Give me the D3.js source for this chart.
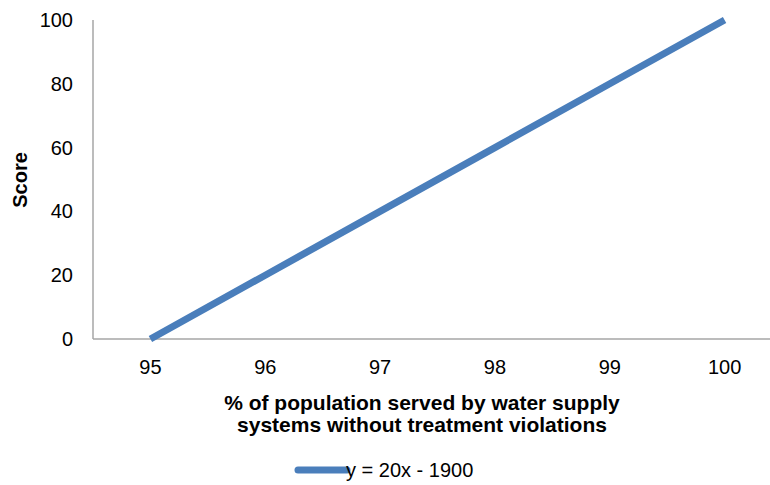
<meta charset="utf-8">
<title>Score chart</title>
<style>
  body { margin: 0; background: #fff; }
  text { font-family: "Liberation Sans", Arial, sans-serif; }
</style>
<svg width="770" height="485"></svg>
<script src="https://d3js.org/d3.v7.min.js"></script>
<script>
// data
var xValues = [95, 96, 97, 98, 99, 100];
var scores = [0, 20, 40, 60, 80, 100];
var xTicks = [95, 96, 97, 98, 99, 100];
var yTicks = [0, 20, 40, 60, 80, 100];
var legendLabel = "y = 20x - 1900";

var svg = d3.select("svg");

var x = d3.scaleLinear().domain([94.5, 100.5]).range([93, 782]);
var y = d3.scaleLinear().domain([0, 100]).range([339, 20]);

// axes lines
svg.append("line")
    .attr("x1", x(94.5)).attr("x2", x(100.5))
    .attr("y1", y(0)).attr("y2", y(0))
    .attr("stroke", "#a6a6a6").attr("stroke-width", 1.5);
svg.append("line")
    .attr("x1", x(94.5)).attr("x2", x(94.5))
    .attr("y1", y(0)).attr("y2", y(100))
    .attr("stroke", "#a6a6a6").attr("stroke-width", 1.5);

// tick labels
svg.append("g").selectAll("text")
    .data(yTicks).enter().append("text")
    .attr("x", 73)
    .attr("y", function(d) { return y(d); })
    .attr("dy", "0.35em")
    .attr("text-anchor", "end")
    .attr("font-size", 20)
    .text(function(d) { return d; });

svg.append("g").selectAll("text")
    .data(xTicks).enter().append("text")
    .attr("x", function(d) { return x(d); })
    .attr("y", 374)
    .attr("text-anchor", "middle")
    .attr("font-size", 20)
    .text(function(d) { return d; });

// the line
var line = d3.line()
    .x(function(d, i) { return x(xValues[i]); })
    .y(function(d) { return y(d); });

svg.append("path")
    .datum(scores)
    .attr("d", line)
    .attr("fill", "none")
    .attr("stroke", "#4a7ebb")
    .attr("stroke-width", 7);

// axis titles
var xt = svg.append("text")
    .attr("text-anchor", "middle")
    .attr("font-size", 21)
    .attr("font-weight", "bold");
xt.append("tspan").attr("x", 422).attr("y", 410).text("% of population served by water supply");
xt.append("tspan").attr("x", 422).attr("y", 432).text("systems without treatment  violations");

svg.append("text")
    .attr("transform", "translate(27,180) rotate(-90)")
    .attr("text-anchor", "middle")
    .attr("font-size", 20)
    .attr("font-weight", "bold")
    .text("Score");

// legend
svg.append("line")
    .attr("x1", 298).attr("x2", 347)
    .attr("y1", 470).attr("y2", 470)
    .attr("stroke", "#4a7ebb").attr("stroke-width", 7)
    .attr("stroke-linecap", "round");
svg.append("text")
    .attr("x", 346).attr("y", 477)
    .attr("font-size", 20)
    .text(legendLabel);
</script>
